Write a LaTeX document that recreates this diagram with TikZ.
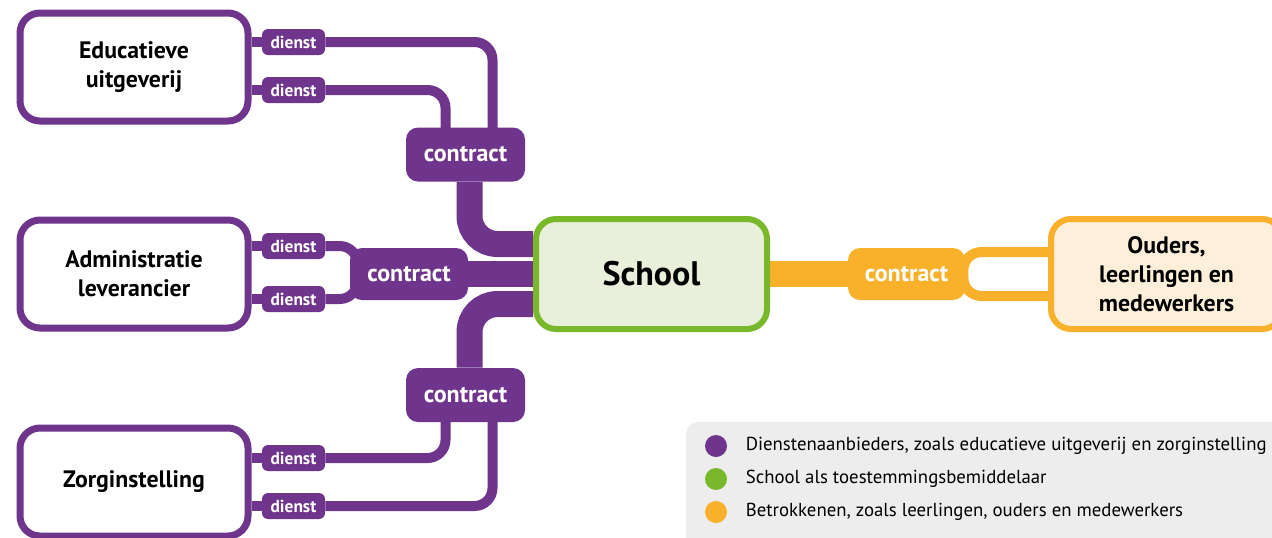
\documentclass[tikz,border=0pt]{standalone}
\usepackage{fontspec}
\setmainfont{PT Sans}
\usetikzlibrary{calc,positioning,backgrounds}
\definecolor{paars}{HTML}{6F358C}
\definecolor{groen}{HTML}{78B82A}
\definecolor{groenlicht}{HTML}{E8EFDA}
\definecolor{oranje}{HTML}{F9B12B}
\definecolor{oranjelicht}{HTML}{FDEFDA}
\definecolor{grijs}{HTML}{EDEDED}

\begin{document}
\begin{tikzpicture}[x=0.5pt,y=-0.5pt,
  partij/.style={draw=paars, fill=white, line width=3.5pt, rounded corners=10pt,
    minimum width=114pt, minimum height=54pt, align=center,
    font=\fontsize{11.9}{14.5}\selectfont\bfseries},
  dienst/.style={fill=paars, text=white, rounded corners=3pt, inner sep=0pt,
    minimum width=31.5pt, minimum height=13pt, font=\fontsize{8.7}{9}\selectfont\bfseries},
  contract/.style={fill=paars, text=white, rounded corners=6pt, inner sep=0pt,
    minimum width=59.5pt, minimum height=27pt, font=\fontsize{12}{13}\selectfont\bfseries},
  lijn/.style={paars, line width=5pt, rounded corners=9pt},
  band/.style={paars, line width=13pt, rounded corners=14pt},
  bol/.style={circle, inner sep=0pt, minimum size=11pt},
  uitleg/.style={inner sep=0pt, font=\fontsize{9.4}{11}\selectfont}]
  \useasboundingbox (0,0) rectangle (1272,537);

  % Partijen
  \node[partij] (uitgever) at (134,67)  {Educatieve\\uitgeverij};
  \node[partij] (admin)    at (134,274) {Administratie\\leverancier};
  \node[partij] (zorg)     at (134,482) {Zorginstelling};
  \node[partij, draw=groen, fill=groenlicht, line width=3pt, minimum width=115.5pt,
    minimum height=55pt, font=\fontsize{17}{19}\selectfont\bfseries] (school) at (651.5,274) {School};
  \node[partij, draw=oranje, fill=oranjelicht, line width=3pt, minimum width=115.5pt,
    minimum height=55pt] (ouders) at (1166.5,274) {Ouders,\\leerlingen en\\medewerkers};

  % Diensten
  \foreach \y [count=\i] in {42,90,246,299,458,506}
    \node[dienst] (d\i) at (293.5,\y) {dienst};

  % Contracten
  \node[contract] (cboven)  at (465.5,154.5) {contract};
  \node[contract, minimum width=59pt, minimum height=26pt] (cmidden) at (409,274) {contract};
  \node[contract] (conder)  at (465.5,395) {contract};
  \node[contract, fill=oranje, minimum width=58.5pt, minimum height=26pt] (corange) at (906.5,274) {contract};

  % Verbindingen (achter de knopen)
  \begin{pgfonlayer}{background}
    \foreach \d/\p in {d1/uitgever,d2/uitgever,d3/admin,d4/admin,d5/zorg,d6/zorg}
      \draw[lijn] (\d.west) -- (\d.west -| \p.east);
    \draw[lijn] (d1.east) -| ($(cboven.north)+(27,5)$);
    \draw[lijn] (d2.east) -| ($(cboven.north)+(-20,5)$);
    \draw[lijn] (d3.east) -| ($(cmidden.west)+(8,0)$) |- (d4.east);
    \draw[lijn] (d5.east) -| ($(conder.south)+(-20,-5)$);
    \draw[lijn] (d6.east) -| ($(conder.south)+(27,-5)$);

    \draw[band] ($(cboven.south)+(4,0)$) |- ($(school.west)+(0,-30)$);
    \draw[band] (cmidden.east) -- (school.west);
    \draw[band] ($(conder.north)+(4,0)$) |- ($(school.west)+(0,30)$);

    \draw[band, oranje] (school.east) -- (corange.west);
    \draw[lijn, oranje] ($(ouders.west)+(0,-22)$) -| ($(corange.east)+(-2,0)$)
      |- ($(ouders.west)+(0,22)$);
  \end{pgfonlayer}

  % Legenda
  \fill[grijs, rounded corners=6pt] (686,422) rectangle (1300,560);
  \foreach \kleur/\tekst [count=\i] in {paars/{Dienstenaanbieders, zoals educatieve uitgeverij en zorginstelling},
      groen/{School als toestemmingsbemiddelaar},
      oranje/{Betrokkenen, zoals leerlingen, ouders en medewerkers}} {
    \node[bol, fill=\kleur] (bol\i) at (716,413+33*\i) {};
    \node[uitleg, right=9pt of bol\i] (tekst\i) {\tekst};
  }
\end{tikzpicture}
\end{document}
